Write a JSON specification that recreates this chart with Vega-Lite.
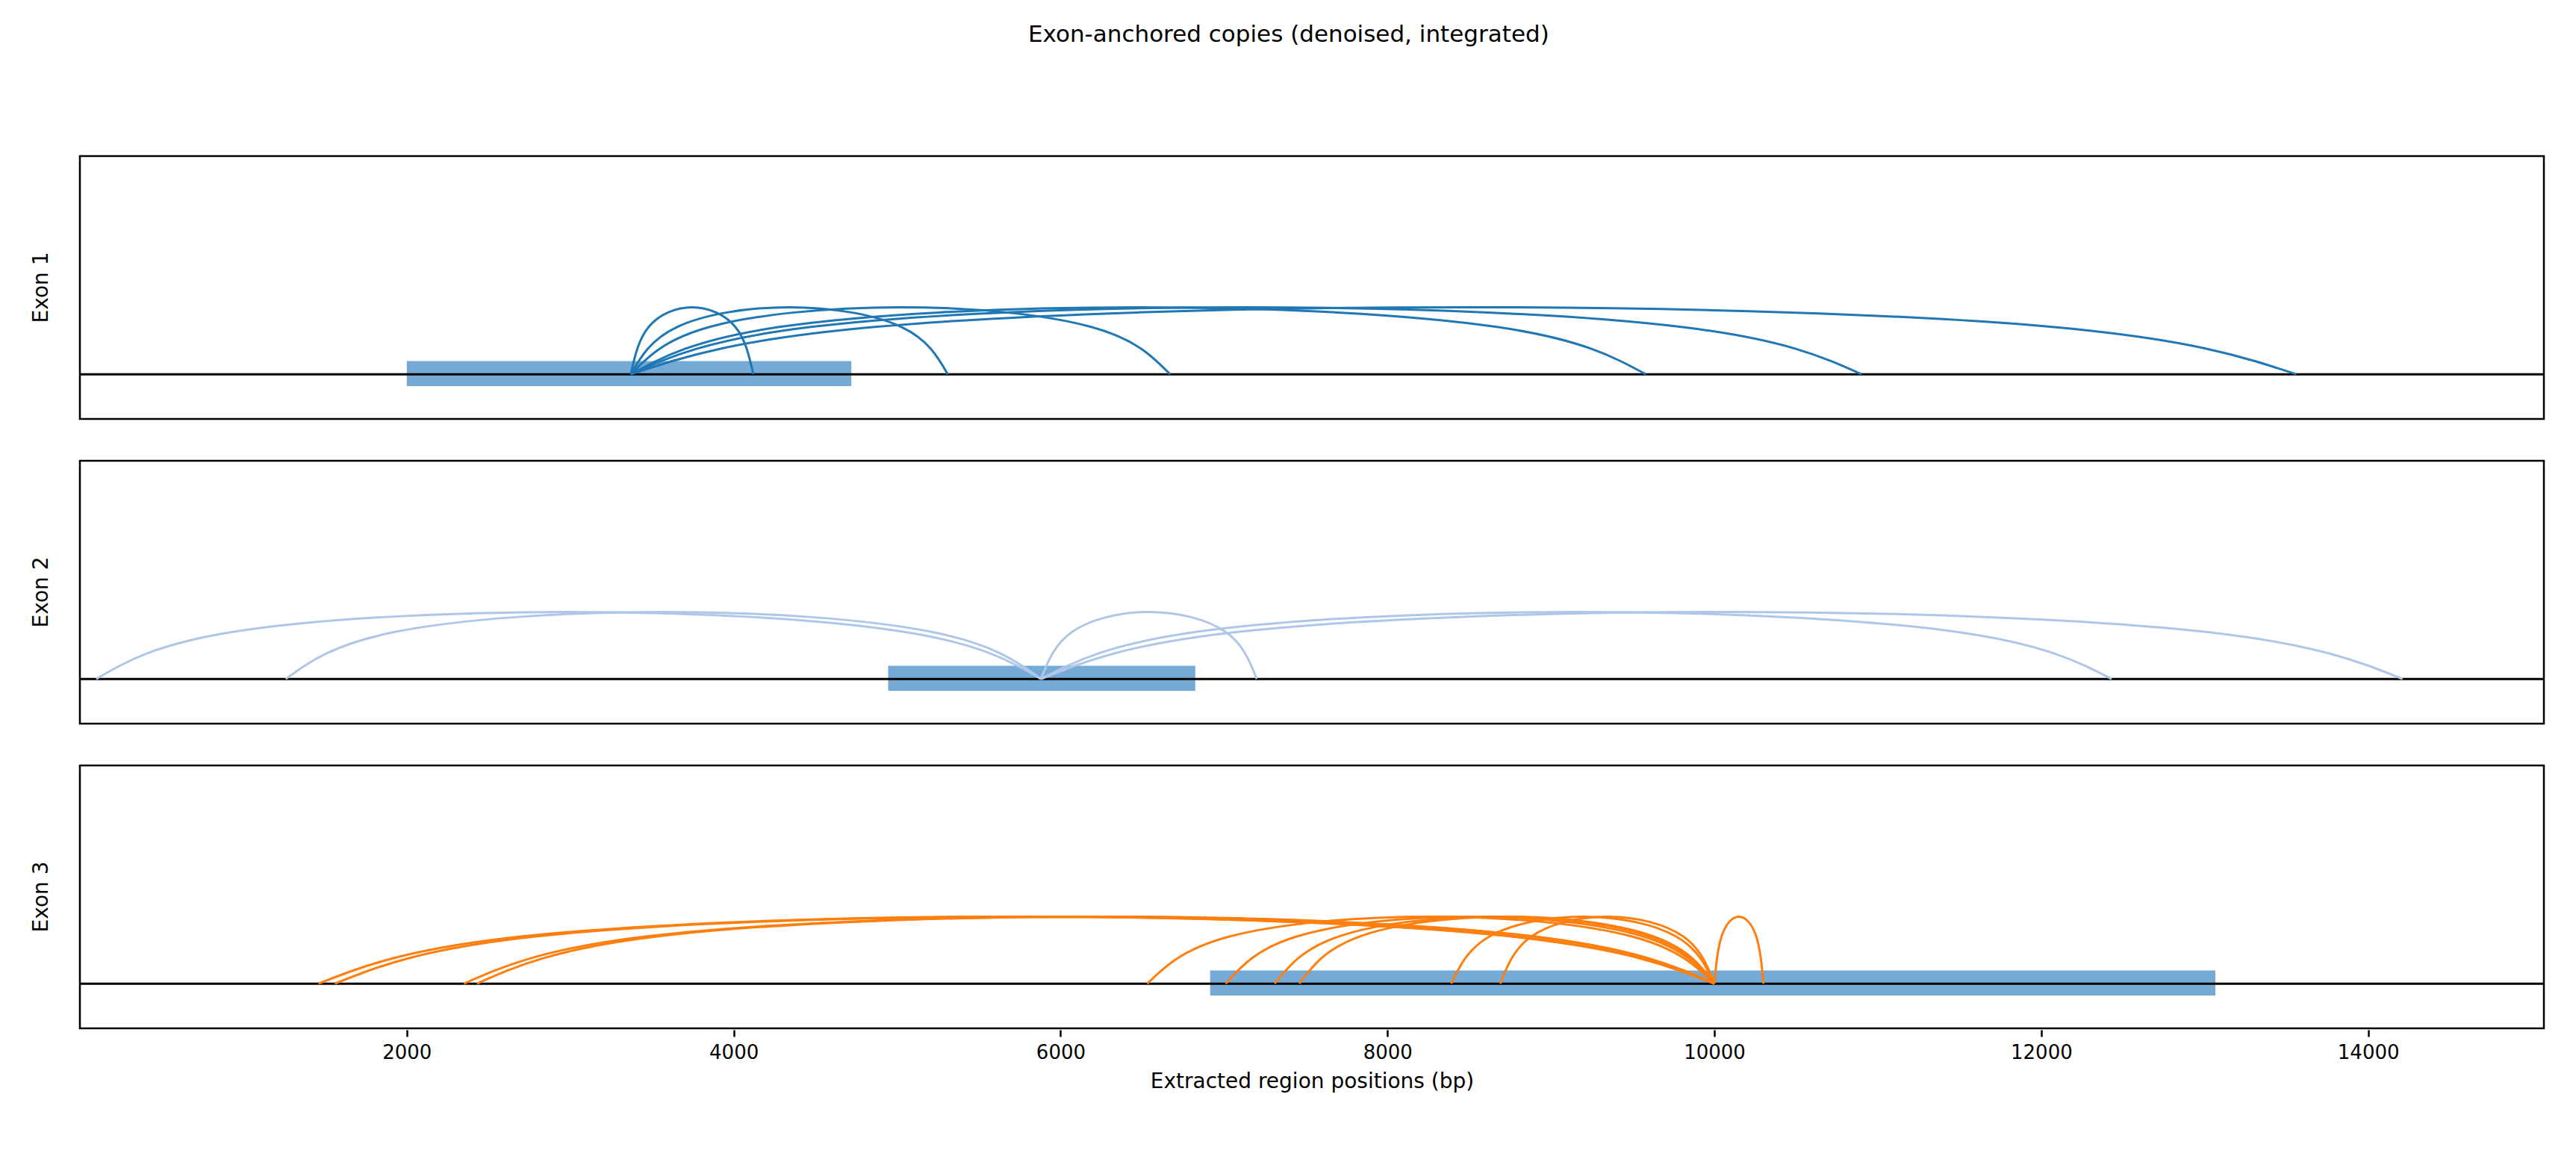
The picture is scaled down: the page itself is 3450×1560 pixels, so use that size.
{
  "$schema": "https://vega.github.io/schema/vega-lite/v6.json",
  "background": "white",
  "padding": {"top": 30, "left": 41, "right": 20, "bottom": 20},
  "title": {"text": "Exon-anchored copies (denoised, integrated)", "anchor": "middle", "fontSize": 31, "fontWeight": "normal", "font": "DejaVu Sans", "offset": 145},
  "config": {
    "font": "DejaVu Sans",
    "view": {"stroke": "black", "strokeWidth": 2.5},
    "axis": {"labelFontSize": 26, "titleFontSize": 28, "titleFontWeight": "normal", "domain": false, "grid": false, "tickColor": "black", "tickWidth": 2.5, "tickSize": 9, "labelColor": "black", "titleColor": "black"}
  },
  "data": {"values": [
    {"t":"bar","e":"Exon 1","x":2000,"x2":4720},
    {"t":"bar","e":"Exon 2","x":4945,"x2":6824},
    {"t":"bar","e":"Exon 3","x":6915,"x2":13065},
    {"t":"arc","e":"Exon 1","id":"1a","x":3370,"y":0.17},{"t":"arc","e":"Exon 1","id":"1a","x":3480,"y":0.35},{"t":"arc","e":"Exon 1","id":"1a","x":3745,"y":0.425},{"t":"arc","e":"Exon 1","id":"1a","x":4010,"y":0.35},{"t":"arc","e":"Exon 1","id":"1a","x":4120,"y":0.17},
    {"t":"arc","e":"Exon 1","id":"1b","x":3370,"y":0.17},{"t":"arc","e":"Exon 1","id":"1b","x":3654,"y":0.35},{"t":"arc","e":"Exon 1","id":"1b","x":4340,"y":0.425},{"t":"arc","e":"Exon 1","id":"1b","x":5026,"y":0.35},{"t":"arc","e":"Exon 1","id":"1b","x":5310,"y":0.17},
    {"t":"arc","e":"Exon 1","id":"1c","x":3370,"y":0.17},{"t":"arc","e":"Exon 1","id":"1c","x":3853,"y":0.35},{"t":"arc","e":"Exon 1","id":"1c","x":5020,"y":0.425},{"t":"arc","e":"Exon 1","id":"1c","x":6187,"y":0.35},{"t":"arc","e":"Exon 1","id":"1c","x":6670,"y":0.17},
    {"t":"arc","e":"Exon 1","id":"1d","x":3370,"y":0.17},{"t":"arc","e":"Exon 1","id":"1d","x":4280,"y":0.35},{"t":"arc","e":"Exon 1","id":"1d","x":6475,"y":0.425},{"t":"arc","e":"Exon 1","id":"1d","x":8670,"y":0.35},{"t":"arc","e":"Exon 1","id":"1d","x":9580,"y":0.17},
    {"t":"arc","e":"Exon 1","id":"1e","x":3370,"y":0.17},{"t":"arc","e":"Exon 1","id":"1e","x":4473,"y":0.35},{"t":"arc","e":"Exon 1","id":"1e","x":7135,"y":0.425},{"t":"arc","e":"Exon 1","id":"1e","x":9797,"y":0.35},{"t":"arc","e":"Exon 1","id":"1e","x":10900,"y":0.17},
    {"t":"arc","e":"Exon 1","id":"1f","x":3370,"y":0.17},{"t":"arc","e":"Exon 1","id":"1f","x":4863,"y":0.35},{"t":"arc","e":"Exon 1","id":"1f","x":8465,"y":0.425},{"t":"arc","e":"Exon 1","id":"1f","x":12067,"y":0.35},{"t":"arc","e":"Exon 1","id":"1f","x":13560,"y":0.17},
    {"t":"arc","e":"Exon 2","id":"2a","x":100,"y":0.17},{"t":"arc","e":"Exon 2","id":"2a","x":947,"y":0.35},{"t":"arc","e":"Exon 2","id":"2a","x":2990,"y":0.425},{"t":"arc","e":"Exon 2","id":"2a","x":5033,"y":0.35},{"t":"arc","e":"Exon 2","id":"2a","x":5880,"y":0.17},
    {"t":"arc","e":"Exon 2","id":"2b","x":1260,"y":0.17},{"t":"arc","e":"Exon 2","id":"2b","x":1937,"y":0.35},{"t":"arc","e":"Exon 2","id":"2b","x":3570,"y":0.425},{"t":"arc","e":"Exon 2","id":"2b","x":5203,"y":0.35},{"t":"arc","e":"Exon 2","id":"2b","x":5880,"y":0.17},
    {"t":"arc","e":"Exon 2","id":"2c","x":5880,"y":0.17},{"t":"arc","e":"Exon 2","id":"2c","x":6073,"y":0.35},{"t":"arc","e":"Exon 2","id":"2c","x":6540,"y":0.425},{"t":"arc","e":"Exon 2","id":"2c","x":7007,"y":0.35},{"t":"arc","e":"Exon 2","id":"2c","x":7200,"y":0.17},
    {"t":"arc","e":"Exon 2","id":"2d","x":5880,"y":0.17},{"t":"arc","e":"Exon 2","id":"2d","x":6840,"y":0.35},{"t":"arc","e":"Exon 2","id":"2d","x":9155,"y":0.425},{"t":"arc","e":"Exon 2","id":"2d","x":11470,"y":0.35},{"t":"arc","e":"Exon 2","id":"2d","x":12430,"y":0.17},
    {"t":"arc","e":"Exon 2","id":"2e","x":5880,"y":0.17},{"t":"arc","e":"Exon 2","id":"2e","x":7100,"y":0.35},{"t":"arc","e":"Exon 2","id":"2e","x":10045,"y":0.425},{"t":"arc","e":"Exon 2","id":"2e","x":12990,"y":0.35},{"t":"arc","e":"Exon 2","id":"2e","x":14210,"y":0.17},
    {"t":"arc","e":"Exon 3","id":"3a","x":1460,"y":0.17},{"t":"arc","e":"Exon 3","id":"3a","x":2711,"y":0.35},{"t":"arc","e":"Exon 3","id":"3a","x":5730,"y":0.425},{"t":"arc","e":"Exon 3","id":"3a","x":8749,"y":0.35},{"t":"arc","e":"Exon 3","id":"3a","x":10000,"y":0.17},
    {"t":"arc","e":"Exon 3","id":"3b","x":1560,"y":0.17},{"t":"arc","e":"Exon 3","id":"3b","x":2796,"y":0.35},{"t":"arc","e":"Exon 3","id":"3b","x":5780,"y":0.425},{"t":"arc","e":"Exon 3","id":"3b","x":8764,"y":0.35},{"t":"arc","e":"Exon 3","id":"3b","x":10000,"y":0.17},
    {"t":"arc","e":"Exon 3","id":"3c","x":2350,"y":0.17},{"t":"arc","e":"Exon 3","id":"3c","x":3471,"y":0.35},{"t":"arc","e":"Exon 3","id":"3c","x":6175,"y":0.425},{"t":"arc","e":"Exon 3","id":"3c","x":8879,"y":0.35},{"t":"arc","e":"Exon 3","id":"3c","x":10000,"y":0.17},
    {"t":"arc","e":"Exon 3","id":"3d","x":2430,"y":0.17},{"t":"arc","e":"Exon 3","id":"3d","x":3539,"y":0.35},{"t":"arc","e":"Exon 3","id":"3d","x":6215,"y":0.425},{"t":"arc","e":"Exon 3","id":"3d","x":8891,"y":0.35},{"t":"arc","e":"Exon 3","id":"3d","x":10000,"y":0.17},
    {"t":"arc","e":"Exon 3","id":"3e","x":6530,"y":0.17},{"t":"arc","e":"Exon 3","id":"3e","x":7038,"y":0.35},{"t":"arc","e":"Exon 3","id":"3e","x":8265,"y":0.425},{"t":"arc","e":"Exon 3","id":"3e","x":9492,"y":0.35},{"t":"arc","e":"Exon 3","id":"3e","x":10000,"y":0.17},
    {"t":"arc","e":"Exon 3","id":"3f","x":7010,"y":0.17},{"t":"arc","e":"Exon 3","id":"3f","x":7448,"y":0.35},{"t":"arc","e":"Exon 3","id":"3f","x":8505,"y":0.425},{"t":"arc","e":"Exon 3","id":"3f","x":9562,"y":0.35},{"t":"arc","e":"Exon 3","id":"3f","x":10000,"y":0.17},
    {"t":"arc","e":"Exon 3","id":"3g","x":7310,"y":0.17},{"t":"arc","e":"Exon 3","id":"3g","x":7704,"y":0.35},{"t":"arc","e":"Exon 3","id":"3g","x":8655,"y":0.425},{"t":"arc","e":"Exon 3","id":"3g","x":9606,"y":0.35},{"t":"arc","e":"Exon 3","id":"3g","x":10000,"y":0.17},
    {"t":"arc","e":"Exon 3","id":"3h","x":7460,"y":0.17},{"t":"arc","e":"Exon 3","id":"3h","x":7832,"y":0.35},{"t":"arc","e":"Exon 3","id":"3h","x":8730,"y":0.425},{"t":"arc","e":"Exon 3","id":"3h","x":9628,"y":0.35},{"t":"arc","e":"Exon 3","id":"3h","x":10000,"y":0.17},
    {"t":"arc","e":"Exon 3","id":"3i","x":8390,"y":0.17},{"t":"arc","e":"Exon 3","id":"3i","x":8626,"y":0.35},{"t":"arc","e":"Exon 3","id":"3i","x":9195,"y":0.425},{"t":"arc","e":"Exon 3","id":"3i","x":9764,"y":0.35},{"t":"arc","e":"Exon 3","id":"3i","x":10000,"y":0.17},
    {"t":"arc","e":"Exon 3","id":"3j","x":8690,"y":0.17},{"t":"arc","e":"Exon 3","id":"3j","x":8882,"y":0.35},{"t":"arc","e":"Exon 3","id":"3j","x":9345,"y":0.425},{"t":"arc","e":"Exon 3","id":"3j","x":9808,"y":0.35},{"t":"arc","e":"Exon 3","id":"3j","x":10000,"y":0.17},
    {"t":"arc","e":"Exon 3","id":"3k","x":10000,"y":0.17},{"t":"arc","e":"Exon 3","id":"3k","x":10044,"y":0.35},{"t":"arc","e":"Exon 3","id":"3k","x":10150,"y":0.425},{"t":"arc","e":"Exon 3","id":"3k","x":10256,"y":0.35},{"t":"arc","e":"Exon 3","id":"3k","x":10300,"y":0.17}
  ]},
  "facet": {"row": {"field": "e", "type": "nominal", "title": null,
    "header": {"labelOrient": "left", "labelAngle": -90, "labelFontSize": 28, "labelPadding": 20, "labelFont": "DejaVu Sans"}}},
  "spacing": 52,
  "spec": {
    "width": 3300,
    "height": 352,
    "encoding": {
      "x": {"field": "x", "type": "quantitative", "title": "Extracted region positions (bp)",
        "scale": {"domain": [0, 15075], "nice": false, "zero": false},
        "axis": {"values": [2000, 4000, 6000, 8000, 10000, 12000, 14000], "format": "d", "labelPadding": 8, "titlePadding": 12}}
    },
    "layer": [
      {
        "transform": [{"filter": "datum.t == 'bar'"}],
        "mark": {"type": "rect", "color": "#74aad5"},
        "encoding": {
          "x2": {"field": "x2"},
          "y": {"datum": 0.125, "type": "quantitative", "scale": {"domain": [0, 1]}, "axis": null},
          "y2": {"datum": 0.22}
        }
      },
      {
        "transform": [{"filter": "datum.t == 'bar'"}],
        "mark": {"type": "rule", "color": "black", "strokeWidth": 3},
        "encoding": {"x": null, "y": {"datum": 0.17, "type": "quantitative"}}
      },
      {
        "transform": [{"filter": "datum.t == 'arc'"}],
        "mark": {"type": "line", "interpolate": "natural", "strokeWidth": 3},
        "encoding": {
          "y": {"field": "y", "type": "quantitative"},
          "detail": {"field": "id"},
          "color": {"field": "e", "type": "nominal", "legend": null,
            "scale": {"domain": ["Exon 1", "Exon 2", "Exon 3"], "range": ["#1f77b4", "#aec7e8", "#ff7f0e"]}}
        }
      }
    ]
  }
}
